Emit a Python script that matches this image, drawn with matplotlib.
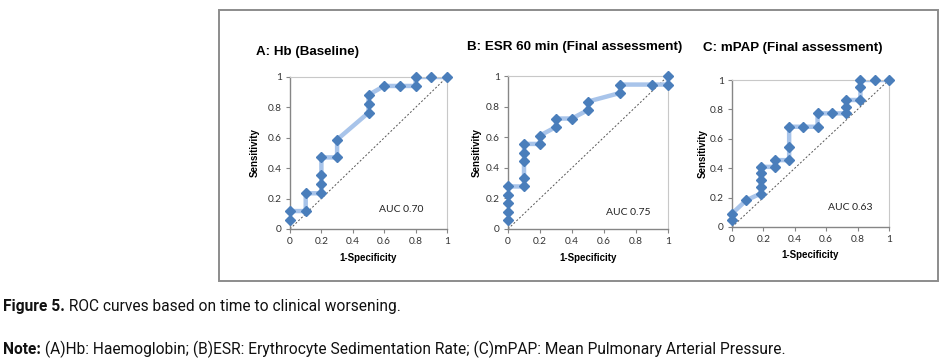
import matplotlib
matplotlib.use("Agg")
import matplotlib.pyplot as plt
from matplotlib.patches import Rectangle
from matplotlib import font_manager

# ---------------- data ----------------
titles = ["A: Hb (Baseline)", "B: ESR 60 min (Final assessment)", "C: mPAP (Final assessment)"]
auc_labels = ["AUC 0.70", "AUC 0.75", "AUC 0.63"]

a_x = [0, 0, 0.1, 0.1, 0.2, 0.2, 0.2, 0.2, 0.3, 0.3, 0.5, 0.5, 0.5, 0.6, 0.7, 0.8, 0.8, 0.9, 1.0]
a_y = [0.059, 0.118, 0.118, 0.235, 0.235, 0.294, 0.353, 0.471, 0.471, 0.588, 0.765, 0.824,
       0.882, 0.941, 0.941, 0.941, 1.0, 1.0, 1.0]

b_x = [0, 0, 0, 0, 0, 0.1, 0.1, 0.1, 0.1, 0.1, 0.2, 0.2, 0.3, 0.3, 0.4, 0.5, 0.5, 0.7, 0.7,
       0.9, 1.0, 1.0]
b_y = [0.056, 0.111, 0.167, 0.222, 0.278, 0.278, 0.333, 0.444, 0.5, 0.556, 0.556, 0.611,
       0.667, 0.722, 0.722, 0.778, 0.833, 0.889, 0.944, 0.944, 0.944, 1.0]

c_x = [0, 0, 0.091, 0.182, 0.182, 0.182, 0.182, 0.182, 0.273, 0.273, 0.364, 0.364, 0.364,
       0.455, 0.545, 0.545, 0.636, 0.727, 0.727, 0.727, 0.818, 0.818, 0.818, 0.909, 1.0]
c_y = [0.045, 0.091, 0.182, 0.227, 0.273, 0.318, 0.364, 0.409, 0.409, 0.455, 0.455, 0.545,
       0.682, 0.682, 0.682, 0.773, 0.773, 0.773, 0.818, 0.864, 0.864, 0.955, 1.0, 1.0, 1.0]

ticks = [0, 0.2, 0.4, 0.6, 0.8, 1]
tick_labels = ["0", "0.2", "0.4", "0.6", "0.8", "1"]

caption_bold = "Figure 5."
caption_text = " ROC curves based on time to clinical worsening."
note_bold = "Note:"
note_text = " (A)Hb: Haemoglobin; (B)ESR: Erythrocyte Sedimentation Rate; (C)mPAP: Mean Pulmonary Arterial Pressure."

# ---------------- layout ----------------
W, H = 949, 362
fig = plt.figure(figsize=(W / 100, H / 100), dpi=100)

def fx(px):
    return px / W

def fy(py):
    return 1 - py / H

installed = {f.name for f in font_manager.fontManager.ttflist}
narrow = "Liberation Sans Narrow" if "Liberation Sans Narrow" in installed else "Roboto"
tickfont = "Lato" if "Lato" in installed else "DejaVu Sans"
boldfont = "Liberation Sans"

# figure frame
fig.add_artist(Rectangle((fx(219), fy(281)), fx(938) - fx(219), fy(10) - fy(281),
                         transform=fig.transFigure, fill=False, edgecolor="#8c8c8c", lw=1.4))

boxes = [(290, 447, 77, 229), (508, 668, 76, 229), (732, 889, 80, 227)]
title_pos = [(256, 52), (467, 47), (703, 48)]
ylab_x = [255, 477, 703]
xlab_y = [258, 258, 255]
auc_pos = [(0.71, 0.125), (0.75, 0.11), (0.75, 0.13)]
series = [(a_x, a_y), (b_x, b_y), (c_x, c_y)]

line_col = "#a8c4ea"
mark_col = "#4a7ebb"

for i, ((l, r, t, b), (xs, ys)) in enumerate(zip(boxes, series)):
    ax = fig.add_axes([fx(l), fy(b), fx(r) - fx(l), fy(t) - fy(b)])
    ax.set_xlim(0, 1)
    ax.set_ylim(0, 1)
    ax.plot([0, 1], [0, 1], linestyle=(0, (2, 2)), color="#555555", lw=0.7, zorder=1)
    ax.plot(xs, ys, color=line_col, lw=3.2, solid_capstyle="round", zorder=2)
    ax.plot(xs, ys, linestyle="none", marker="D", markersize=5.5, color=mark_col,
            markeredgecolor=mark_col, zorder=3, clip_on=False)
    ax.set_xticks(ticks)
    ax.set_xticklabels(tick_labels, fontfamily=tickfont, fontsize=7.3, color="#333333")
    ax.set_yticks(ticks)
    ax.set_yticklabels(tick_labels, fontfamily=tickfont, fontsize=7.3, color="#333333")
    ax.tick_params(length=3, width=0.8, color="#868686", pad=3)
    for s in ["left", "bottom"]:
        ax.spines[s].set_color("#868686")
        ax.spines[s].set_linewidth(1.0)
    for s in ["top", "right"]:
        ax.spines[s].set_color("#c8c8c8")
        ax.spines[s].set_linewidth(0.8)
    ax.text(auc_pos[i][0], auc_pos[i][1], auc_labels[i], ha="center", va="center",
            fontfamily=tickfont, fontsize=7.5, color="#222222")
    # title
    fig.text(fx(title_pos[i][0]), fy(title_pos[i][1]), titles[i], ha="left", va="center",
             fontfamily=boldfont, fontweight="bold", fontsize=9.6, color="black")
    # y label
    fig.text(fx(ylab_x[i]), (fy(t) + fy(b)) / 2, "Sensitivity", rotation=90, ha="center",
             va="center", fontfamily=boldfont, fontweight="bold", fontsize=7)
    # x label
    fig.text((fx(l) + fx(r)) / 2, fy(xlab_y[i]), "1-Specificity", ha="center", va="center",
             fontfamily=boldfont, fontweight="bold", fontsize=7)

# captions
r = fig.canvas.get_renderer()
t1 = fig.text(fx(3), fy(306), caption_bold, ha="left", va="center", fontfamily=narrow,
              fontweight="bold", fontsize=11.2, color="#111111")
bb = t1.get_window_extent(renderer=r)
fig.text(bb.x1 / W, fy(306), caption_text, ha="left", va="center", fontfamily=narrow,
         fontsize=11.2, color="#111111")
t2 = fig.text(fx(3), fy(349), note_bold, ha="left", va="center", fontfamily=narrow,
              fontweight="bold", fontsize=11.2, color="#111111")
bb = t2.get_window_extent(renderer=r)
fig.text(bb.x1 / W, fy(349), note_text, ha="left", va="center", fontfamily=narrow,
         fontsize=11.2, color="#111111")

fig.savefig("out.png", dpi=100)
